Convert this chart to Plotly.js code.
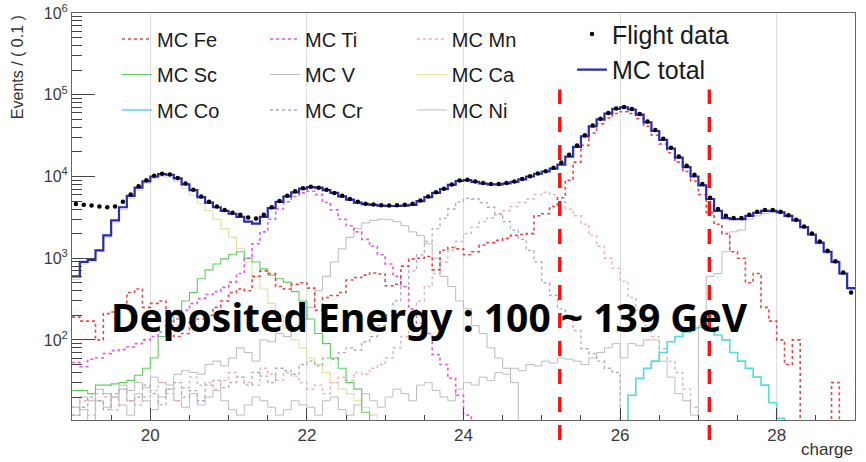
<!DOCTYPE html>
<html><head><meta charset="utf-8">
<script src="https://cdn.plot.ly/plotly-3.0.1.min.js"></script>
<style>html,body{margin:0;padding:0;background:#fff;}#chart{width:866px;height:462px;}</style>
</head><body><div id="chart"></div>
<script>
// histogram binning: 100 bins of 0.1 in charge, from 19.0 to 29.0
const binLow = 19.0;
const binWidth = 0.1;

const flightData = [
 4600, 4500, 4400, 4300, 4200, 4300, 4900, 6000, 7600, 9000,
 10200, 10800, 10600, 9600, 8200, 6900, 5700, 4900, 4300, 3900,
 3600, 3400, 3150, 3050, 3400, 4200, 5000, 5800, 6600, 7200,
 7500, 7300, 6900, 6300, 5800, 5300, 4900, 4650, 4550, 4450,
 4400, 4450, 4500, 4650, 5100, 5700, 6400, 7100, 8000, 8900,
 9100, 8700, 8300, 8100, 8100, 8300, 8700, 9300, 10100, 10900,
 11600, 12800, 14800, 18500, 24000, 32000, 42000, 51000, 60000, 68000,
 71000, 67000, 58000, 47000, 37000, 29000, 22500, 17500, 13500, 10500,
 8100, 5500, 4000, 3300, 3100, 3100, 3400, 3700, 3900, 3900,
 3700, 3350, 2950, 2450, 2000, 1600, 1230, 920, 670, 380];

const mcTotal = [
 600, 900, 950, 1250, 1900, 2900, 4200, 5800, 7300, 8700,
 10000, 10700, 10500, 9500, 8000, 6800, 5600, 4800, 4200, 3800,
 3500, 3200, 2800, 2650, 3200, 4100, 4900, 5700, 6400, 7100,
 7400, 7300, 6800, 6300, 5700, 5200, 4800, 4600, 4500, 4400,
 4350, 4350, 4400, 4500, 5000, 5600, 6300, 7000, 7900, 8800,
 9000, 8600, 8200, 8000, 8000, 8200, 8600, 9200, 10000, 10800,
 11500, 12500, 14000, 17500, 23000, 31000, 41000, 50000, 59000, 67000,
 70000, 66000, 57000, 46000, 36000, 28000, 22000, 17000, 13000, 10000,
 7800, 5300, 3800, 3100, 3000, 3000, 3300, 3600, 3800, 3800,
 3650, 3300, 2900, 2400, 1950, 1550, 1200, 900, 650, 430];

const mcFe = [
 190, 170, 170, 100, 210, 220, 260, 380, 420, 250,
 280, 300, 120, 110, 120, 170, 180, 200, 250, 300,
 380, 420, 400, 600, 700, 650, 450, 420, 480, 500,
 430, 230, 330, 350, 380, 540, 580, 620, 660, 640,
 460, 480, 800, 980, 1000, 1050, 720, 1250, 1350, 1300,
 1100, 1200, 1450, 1550, 1650, 1750, 1900, 1950, 2000, 3300,
 3500, 4300, 5500, 9000, 15000, 24000, 34000, 44000, 52000, 59000,
 62000, 59000, 51000, 41000, 32000, 25000, 19500, 15000, 11500, 8800,
 6000, 3600, 2600, 2000, 1200, 1000, 500, 650, 250, 170,
 100, 50, 100, 1, 1, 1, 1, 30, 1, 1];

const mcTi = [
 53, 47, 58, 60, 68, 74, 76, 82, 90, 100,
 110, 125, 150, 180, 230, 280, 320, 360, 390, 440,
 510, 650, 1000, 1500, 2100, 3000, 4000, 4900, 5700, 6300,
 6600, 6000, 4800, 3900, 3000, 2500, 2100, 1700, 1400, 1100,
 850, 600, 450, 240, 160, 120, 66, 50, 34, 21,
 12, 1, 1, 1, 1, 1, 1, 1, 1, 1,
 1, 1, 1, 1, 1, 1, 1, 1, 1, 1,
 1, 1, 1, 1, 1, 1, 1, 1, 1, 1,
 1, 1, 1, 1, 1, 1, 1, 1, 1, 1,
 1, 1, 1, 1, 1, 1, 1, 1, 1, 1];

const mcSc = [
 24, 24, 22, 28, 28, 29, 30, 32, 37, 45,
 60, 110, 170, 230, 300, 380, 560, 720, 850, 980,
 1100, 1200, 1000, 900, 740, 620, 560, 510, 390, 300,
 180, 120, 90, 60, 45, 30, 25, 13, 1, 1,
 1, 1, 1, 1, 1, 1, 1, 1, 1, 1,
 1, 1, 1, 1, 1, 1, 1, 1, 1, 1,
 1, 1, 1, 1, 1, 1, 1, 1, 1, 1,
 1, 1, 1, 1, 1, 1, 1, 1, 1, 1,
 1, 1, 1, 1, 1, 1, 1, 1, 1, 1,
 1, 1, 1, 1, 1, 1, 1, 1, 1, 1];

const mcCo = [
 1, 1, 1, 1, 1, 1, 1, 1, 1, 1,
 1, 1, 1, 1, 1, 1, 1, 1, 1, 1,
 1, 1, 1, 1, 1, 1, 1, 1, 1, 1,
 1, 1, 1, 1, 1, 1, 1, 1, 1, 1,
 1, 1, 1, 1, 1, 1, 1, 1, 1, 1,
 1, 1, 1, 1, 1, 1, 1, 1, 1, 1,
 1, 1, 1, 1, 1, 1, 1, 1, 1, 1,
 1, 21, 34, 45, 55, 70, 95, 110, 125, 140,
 142, 135, 115, 100, 70, 55, 45, 35, 28, 17,
 11, 1, 1, 1, 1, 1, 1, 1, 1, 1];

const mcMn = [
 15, 18, 12, 22, 20, 14, 25, 18, 16, 20,
 24, 30, 22, 18, 26, 35, 28, 30, 25, 32,
 40, 35, 30, 28, 45, 38, 32, 40, 36, 30,
 25, 28, 22, 30, 35, 32, 40, 38, 45, 50,
 60, 80, 110, 150, 300, 450, 650, 900, 1250, 1600,
 2000, 2400, 2800, 3100, 3400, 3800, 4300, 4800, 5300, 6000,
 6400, 6000, 4900, 4000, 3300, 2600, 1900, 1400, 1000, 750,
 520, 330, 230, 150, 110, 78, 55, 40, 25, 15,
 1, 1, 1, 1, 1, 1, 1, 1, 1, 1,
 1, 1, 1, 1, 1, 1, 1, 1, 1, 1];

const mcCr = [
 12, 15, 20, 18, 14, 22, 25, 18, 20, 28,
 22, 16, 25, 30, 20, 24, 18, 28, 32, 26,
 30, 35, 28, 40, 36, 30, 45, 42, 38, 50,
 55, 48, 60, 58, 70, 80, 75, 95, 110, 150,
 200, 300, 450, 700, 1100, 1600, 2300, 3100, 4000, 4900,
 5400, 5300, 4800, 4200, 3500, 2800, 2200, 1700, 1250, 900,
 500, 350, 240, 200, 130, 78, 68, 55, 45, 40,
 1, 1, 1, 1, 1, 1, 1, 1, 1, 1,
 1, 1, 1, 1, 1, 1, 1, 1, 1, 1,
 1, 1, 1, 1, 1, 1, 1, 1, 1, 1];

const mcV = [
 15, 20, 18, 25, 22, 20, 28, 24, 30, 26,
 35, 30, 28, 38, 42, 40, 38, 50, 55, 48,
 60, 80, 70, 55, 100, 95, 120, 110, 140, 180,
 250, 400, 600, 900, 1300, 1800, 2300, 2700, 2900, 3000,
 2950, 2800, 2500, 2100, 1900, 1500, 1000, 600, 450, 300,
 240, 150, 120, 80, 60, 45, 30, 1, 1, 1,
 1, 1, 1, 1, 1, 1, 1, 1, 1, 1,
 1, 1, 1, 1, 1, 1, 1, 1, 1, 1,
 1, 1, 1, 1, 1, 1, 1, 1, 1, 1,
 1, 1, 1, 1, 1, 1, 1, 1, 1, 1];

const mcCa = [
 550, 850, 900, 1200, 1800, 2700, 3900, 5400, 6800, 8200,
 9400, 10000, 9700, 8700, 7200, 5900, 4700, 3800, 3000, 2300,
 1800, 1300, 900, 600, 420, 280, 200, 140, 100, 80,
 60, 50, 40, 30, 25, 22, 18, 15, 12, 1,
 1, 1, 1, 1, 1, 1, 1, 1, 1, 1,
 1, 1, 1, 1, 1, 1, 1, 1, 1, 1,
 1, 1, 1, 1, 1, 1, 1, 1, 1, 1,
 1, 1, 1, 1, 1, 1, 1, 1, 1, 1,
 1, 1, 1, 1, 1, 1, 1, 1, 1, 1,
 1, 1, 1, 1, 1, 1, 1, 1, 1, 1];

const mcNi = [
 12, 14, 10, 18, 15, 20, 16, 12, 22, 18,
 14, 20, 25, 18, 15, 22, 16, 20, 24, 18,
 14, 12, 16, 20, 18, 15, 12, 14, 18, 16,
 15, 12, 18, 20, 14, 12, 16, 22, 18, 15,
 20, 25, 22, 18, 28, 30, 24, 20, 18, 25,
 30, 28, 35, 32, 40, 38, 45, 42, 50, 48,
 55, 52, 60, 58, 55, 50, 60, 70, 80, 90,
 60, 90, 85, 100, 100, 55, 35, 22, 18, 12,
 150, 600, 650, 1200, 2100, 2200, 3000, 3300, 3500, 3600,
 3500, 3200, 2850, 2350, 1900, 1500, 1150, 870, 630, 420];

const cutLines = [25.23, 27.14];
const labelText = 'Deposited Energy : 100 ~ 139 GeV';
const yMajorTicks = [100, 1000, 10000, 100000, 1000000];
const yMajorLabels = ['10<sup>2</sup>', '10<sup>3</sup>', '10<sup>4</sup>', '10<sup>5</sup>', '10<sup>6</sup>'];
const yMinorTicks = [20, 30, 40, 50, 60, 70, 80, 90,
  200, 300, 400, 500, 600, 700, 800, 900,
  2000, 3000, 4000, 5000, 6000, 7000, 8000, 9000,
  20000, 30000, 40000, 50000, 60000, 70000, 80000, 90000,
  200000, 300000, 400000, 500000, 600000, 700000, 800000, 900000];

// ---- build traces ----
const nBins = flightData.length;
const edges = Array.from({length: nBins}, (_, i) => +(binLow + i * binWidth).toFixed(2));
const centers = edges.map(e => +(e + binWidth / 2).toFixed(3));
const lastEdge = +(binLow + nBins * binWidth).toFixed(2);
function stepTrace(name, vals, color, dash, width, legendId, rank) {
  return {
    type: 'scatter', mode: 'lines', name: name,
    x: edges.concat([lastEdge]), y: vals.concat([vals[vals.length - 1]]),
    line: {shape: 'hv', color: color, dash: dash, width: width},
    legend: legendId, legendgroup: name, legendrank: rank, hoverinfo: 'skip'
  };
}

const traces = [
  stepTrace('MC Ca', mcCa, '#e6dfa2', 'solid', 1.1, 'legend3', 2),
  stepTrace('MC Ni', mcNi, '#bdbdbd', 'solid', 1.0, 'legend3', 3),
  stepTrace('MC V',  mcV,  '#bababa', 'solid', 1.0, 'legend2', 2),
  stepTrace('MC Cr', mcCr, '#a9a9bd', 'dot', 1.3, 'legend2', 3),
  stepTrace('MC Mn', mcMn, '#e2b2b8', 'dot', 1.4, 'legend3', 1),
  stepTrace('MC Sc', mcSc, '#5ccf5c', 'solid', 1.1, 'legend', 2),
  stepTrace('MC Ti', mcTi, '#e05ae0', 'dot', 1.6, 'legend2', 1),
  stepTrace('MC Co', mcCo, '#55dada', 'solid', 1.6, 'legend', 3),
  stepTrace('MC Fe', mcFe, '#e34848', 'dot', 1.6, 'legend', 1),
  stepTrace('MC total', mcTotal, '#2a2ab2', 'solid', 2.2, 'legend4', 2),
  {type: 'scatter', mode: 'markers', name: 'Flight data', x: centers, y: flightData,
   marker: {color: '#000', size: 4.5, symbol: 'circle'},
   legend: 'legend4', legendgroup: 'Flight data', legendrank: 1, hoverinfo: 'skip'}
];

const legFont = {family: 'Liberation Sans, Arial, sans-serif', size: 20, color: '#1a1a1a'};
function colLegend(x, y, font, gap) {
  return {x: x, y: y, xanchor: 'left', yanchor: 'top', bgcolor: 'rgba(0,0,0,0)',
          borderwidth: 0, font: font, tracegroupgap: gap, traceorder: 'grouped', itemclick: false};
}

const layout = {
  width: 866, height: 462,
  margin: {l: 72, r: 11, t: 11, b: 42, pad: 0},
  paper_bgcolor: '#fff', plot_bgcolor: '#fff',
  font: {family: 'Liberation Sans, Arial, sans-serif', color: '#333'},
  showlegend: true,
  legend:  colLegend(0.0575, 0.984, legFont, 6.5),
  legend2: colLegend(0.2465, 0.984, legFont, 6.5),
  legend3: colLegend(0.434, 0.984, legFont, 6.5),
  legend4: colLegend(0.6386, 1.004, {family: 'Liberation Sans, Arial, sans-serif', size: 25, color: '#1a1a1a'}, 0),
  xaxis: {
    range: [19, 29], tick0: 20, dtick: 2, ticks: 'inside', ticklen: 12, tickwidth: 1, tickcolor: '#444',
    showgrid: true, gridcolor: '#dedede', gridwidth: 1, zeroline: false,
    showline: true, linecolor: '#666', linewidth: 1, mirror: true,
    tickfont: {size: 17, color: '#3a3a3a'},
    minor: {dtick: 0.5, tick0: 19, ticks: 'inside', ticklen: 5, tickcolor: '#444', showgrid: false}
  },
  yaxis: {
    type: 'log', range: [1.02, 6.0005],
    tickmode: 'array', tickvals: yMajorTicks, ticktext: yMajorLabels,
    ticklabeloverflow: 'allow',
    ticks: 'inside', ticklen: 23, tickwidth: 1, tickcolor: '#444',
    showgrid: false, zeroline: false,
    showline: true, linecolor: '#666', linewidth: 1, mirror: true,
    tickfont: {size: 16, color: '#3a3a3a'},
    minor: {tickmode: 'array', tickvals: yMinorTicks, ticks: 'inside', ticklen: 10, tickcolor: '#444', showgrid: false}
  },
  shapes: cutLines.map(c => ({type: 'line', xref: 'x', yref: 'paper', x0: c, x1: c, y0: -0.049, y1: 0.812,
    line: {color: '#ff1010', width: 3.5, dash: '15px,13px'}, layer: 'above'})),
  annotations: [
    {text: 'Events / ( 0.1 )', xref: 'paper', yref: 'paper', x: -0.07, y: 1.0, xanchor: 'center', yanchor: 'top',
     textangle: -90, showarrow: false, font: {size: 16, color: '#333'}},
    {text: 'charge', xref: 'paper', yref: 'paper', x: 1.0, y: -0.073, xanchor: 'right', yanchor: 'middle',
     showarrow: false, font: {size: 17, color: '#333'}},
    {text: '<b>' + labelText + '</b>', xref: 'paper', yref: 'paper', x: 0.457, y: 0.254, xanchor: 'center', yanchor: 'middle',
     showarrow: false, font: {family: 'Noto Sans, DejaVu Sans, sans-serif', size: 39, color: '#000'}}
  ]
};

Plotly.newPlot('chart', traces, layout, {staticPlot: true, displayModeBar: false});
</script>
</body></html>
